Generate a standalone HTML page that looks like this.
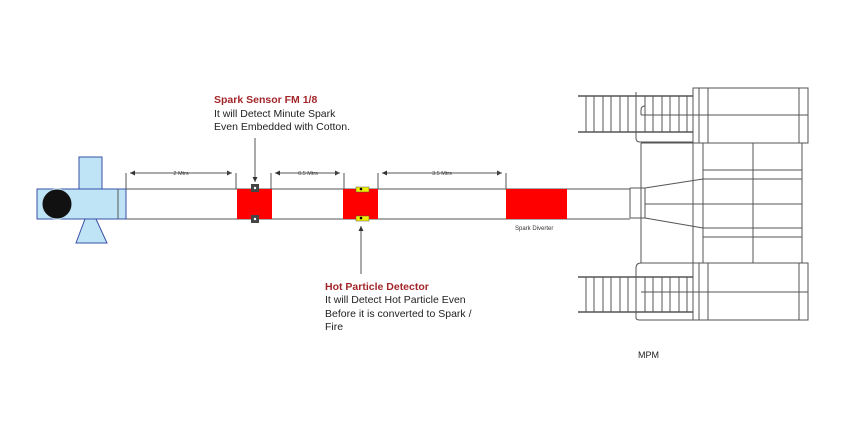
<!DOCTYPE html><html><head><style>body{margin:0;background:#fff}svg{display:block}</style></head><body>
<svg width="854" height="430" xmlns="http://www.w3.org/2000/svg" font-family="Liberation Sans, sans-serif">
<defs><marker id="a" markerWidth="6" markerHeight="6" refX="5" refY="3" orient="auto"><path d="M0,0.5 L5,3 L0,5.5Z" fill="#333"/></marker></defs>
<g stroke="#555" stroke-width="1" fill="none">
<line x1="126" y1="189" x2="630" y2="189"/><line x1="126" y1="219" x2="630" y2="219"/>
</g>
<rect x="237" y="189" width="35" height="30" fill="#f00"/>
<rect x="343" y="189" width="35" height="30" fill="#f00"/>
<rect x="506" y="189" width="61" height="30" fill="#f00"/>
<rect x="251" y="184" width="8" height="8" fill="#444"/><rect x="251" y="215" width="8" height="8" fill="#444"/>
<circle cx="255" cy="188" r="1.2" fill="#fff"/><circle cx="255" cy="219" r="1.2" fill="#fff"/>
<rect x="356" y="187" width="13" height="5" fill="#ee0" stroke="#555" stroke-width=".5"/><rect x="356" y="216" width="13" height="5" fill="#ee0" stroke="#555" stroke-width=".5"/>
<circle cx="361" cy="189" r="1.3" fill="#000"/><circle cx="361" cy="218" r="1.3" fill="#000"/>
<rect x="79" y="157" width="23" height="32" fill="#bfe4f5" stroke="#3a4fa8"/>
<rect x="37" y="189" width="89" height="30" fill="#bfe4f5" stroke="#3a4fa8"/>
<line x1="118" y1="189" x2="118" y2="219" stroke="#555"/>
<polygon points="85,219 96,219 107,243 76,243" fill="#bfe4f5" stroke="#3a4fa8"/>
<circle cx="57" cy="204" r="15" fill="#111" stroke="#bfe4f5"/>
<g stroke="#555" stroke-width="1" fill="none">
<line x1="130" y1="173" x2="232" y2="173" marker-end="url(#a)"/><line x1="232" y1="173" x2="130" y2="173" marker-end="url(#a)"/>
<line x1="126" y1="173" x2="126" y2="189"/><line x1="236" y1="173" x2="236" y2="189"/>
<line x1="275" y1="173" x2="340" y2="173" marker-end="url(#a)"/><line x1="340" y1="173" x2="275" y2="173" marker-end="url(#a)"/>
<line x1="271" y1="173" x2="271" y2="189"/><line x1="344" y1="173" x2="344" y2="189"/>
<line x1="382" y1="173" x2="502" y2="173" marker-end="url(#a)"/><line x1="502" y1="173" x2="382" y2="173" marker-end="url(#a)"/>
<line x1="378" y1="173" x2="378" y2="189"/><line x1="506" y1="173" x2="506" y2="189"/>
<line x1="255" y1="138" x2="255" y2="182" marker-end="url(#a)"/><line x1="361" y1="274" x2="361" y2="226" marker-end="url(#a)"/>
</g>
<g font-size="5.5" fill="#444" text-anchor="middle"><text x="181" y="175">2 Mtrs</text><text x="308" y="175">0.5 Mtrs</text><text x="442" y="175">3.5 Mtrs</text></g>
<text x="515" y="230" font-size="6" fill="#333">Spark Diverter</text>
<g font-size="10.5" fill="#222">
<text x="214" y="103" fill="#a3262a" font-weight="bold">Spark Sensor FM 1/8</text>
<text x="214" y="117">It will Detect Minute Spark</text>
<text x="214" y="130">Even Embedded with Cotton.</text>
<text x="325" y="290" fill="#a3262a" font-weight="bold">Hot Particle Detector</text>
<text x="325" y="303">It will Detect Hot Particle Even</text>
<text x="325" y="317">Before it is converted to Spark /</text>
<text x="325" y="330">Fire</text>
<text x="638" y="358" font-size="9">MPM</text>
</g>
<g stroke="#555" stroke-width="1" fill="none">
<line x1="630" y1="188" x2="630" y2="218"/><line x1="641" y1="188" x2="641" y2="218"/><line x1="645" y1="188" x2="645" y2="218"/>
<line x1="630" y1="188" x2="645" y2="188"/><line x1="630" y1="218" x2="645" y2="218"/>
<line x1="645" y1="188" x2="703" y2="179"/><line x1="645" y1="218" x2="703" y2="228"/>
<line x1="641" y1="143" x2="641" y2="263"/><line x1="693" y1="143" x2="693" y2="263"/><line x1="703" y1="143" x2="703" y2="263"/>
<line x1="802" y1="143" x2="802" y2="263"/><line x1="753" y1="143" x2="753" y2="263"/>
<line x1="703" y1="170" x2="802" y2="170"/><line x1="703" y1="179" x2="802" y2="179"/><line x1="645" y1="204" x2="802" y2="204"/>
<line x1="703" y1="228" x2="802" y2="228"/><line x1="703" y1="237" x2="802" y2="237"/>
<line x1="641" y1="143" x2="808" y2="143"/><line x1="641" y1="263" x2="808" y2="263"/>
<rect x="693" y="88" width="115" height="55"/><line x1="641" y1="115" x2="808" y2="115"/>
<line x1="699" y1="88" x2="699" y2="143"/><line x1="708" y1="88" x2="708" y2="143"/><line x1="799" y1="88" x2="799" y2="143"/>
<path d="M636 92 V138 Q636 142 640 142 H693"/><path d="M641 115 V110 Q641 106 645 106"/>
<line x1="578" y1="96" x2="693" y2="96" stroke-width="1.5"/><line x1="578" y1="132" x2="693" y2="132" stroke-width="1.5"/>
<rect x="693" y="263" width="115" height="57"/><line x1="641" y1="292" x2="808" y2="292"/>
<line x1="699" y1="263" x2="699" y2="320"/><line x1="708" y1="263" x2="708" y2="320"/><line x1="799" y1="263" x2="799" y2="320"/>
<path d="M636 318 V268 Q636 263 641 263"/><path d="M636 318 Q636 320 640 320 H693"/>
<line x1="578" y1="277" x2="693" y2="277" stroke-width="1.5"/><line x1="578" y1="312" x2="693" y2="312" stroke-width="1.5"/>
</g>
<g stroke="#555" stroke-width="1">
<path d="M586 96V132M594 96V132M603 96V132M611 96V132M620 96V132M628 96V132M645 96V132M653 96V132M662 96V132M670 96V132M679 96V132M687 96V132"/>
<path d="M586 277V312M594 277V312M603 277V312M611 277V312M620 277V312M628 277V312M645 277V312M653 277V312M662 277V312M670 277V312M679 277V312M687 277V312"/>
</g>
</svg></body></html>
